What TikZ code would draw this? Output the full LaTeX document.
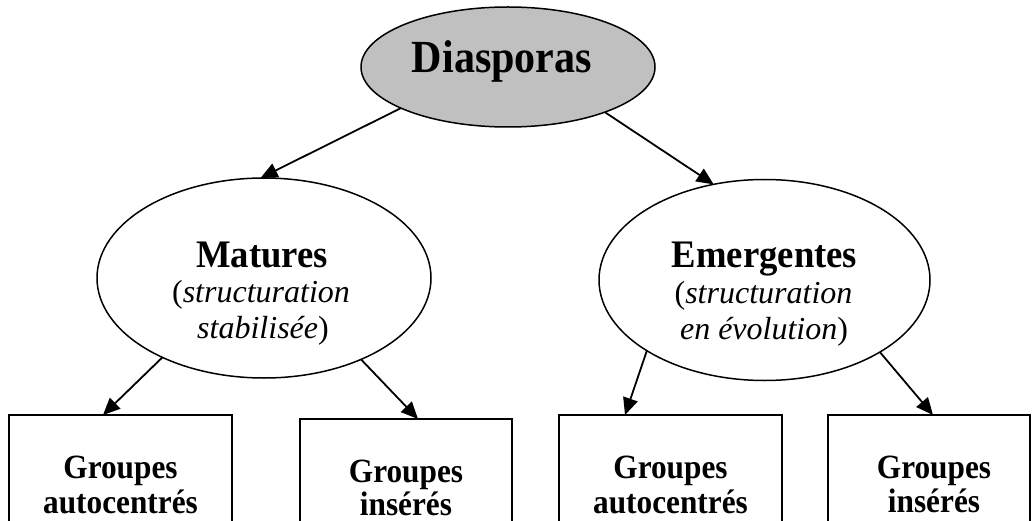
\documentclass[tikz,border=0pt]{standalone}
\usepackage{fontspec}
\setmainfont{Liberation Serif}
\usetikzlibrary{arrows.meta,shapes.geometric,calc}
\definecolor{dgray}{RGB}{192,192,192}
\newcommand\sqz[2]{\scalebox{#1}[1]{#2}}
\begin{document}
\begin{tikzpicture}[x=1pt,y=-1pt,
  ell/.style={ellipse,draw,line width=1.5pt,inner sep=0pt,outer sep=0pt},
  box/.style={rectangle,draw,line width=1.8pt,inner sep=0pt,outer sep=0pt,anchor=north west,minimum height=200pt},
  arr/.style={line width=1.8pt,-{Triangle[length=17pt,width=15pt]}},
  big/.style={anchor=base,inner sep=0pt,font=\fontsize{46}{50}\selectfont\bfseries},
  ttl/.style={anchor=base,inner sep=0pt,font=\fontsize{39}{42}\selectfont\bfseries},
  sub/.style={anchor=base,inner sep=0pt,font=\fontsize{32}{36}\selectfont},
  grp/.style={anchor=base,inner sep=0pt,font=\fontsize{34}{38}\selectfont\bfseries}]
\useasboundingbox (0,0) rectangle (1032,521);
\clip (0,0) rectangle (1032,521);

% ellipses
\node[ell,fill=dgray,minimum width=294pt,minimum height=120pt] (D) at (508,67) {};
\node[ell,minimum width=334pt,minimum height=200pt] (M) at (264,278) {};
\node[ell,minimum width=331pt,minimum height=201pt] (E) at (764.5,280) {};

% ellipse texts
\node[big] (Dt) at (502,73) {\sqz{0.915}{Diasporas}};
\node[ttl] (Mt1) at (262,267) {\sqz{0.94}{Matures}};
\node[sub] (Mt2) at (261,302) {(\textit{structuration}};
\node[sub] (Mt3) at (263,338) {\textit{stabilisée})};
\node[ttl] (Et1) at (764.5,267) {\sqz{0.94}{Emergentes}};
\node[sub] (Et2) at (763.5,303) {(\textit{structuration}};
\node[sub] (Et3) at (764,339) {\textit{en évolution})};

% boxes
\node[box,minimum width=223pt] (B1) at (9,415) {};
\node[box,minimum width=212pt] (B2) at (300,419) {};
\node[box,minimum width=223pt] (B3) at (559,415) {};
\node[box,minimum width=202pt] (B4) at (828,415) {};

% box texts
\node[grp] (B1a) at (120.5,478) {\sqz{0.92}{Groupes}};
\node[grp] (B1b) at (120.5,513) {\sqz{0.92}{autocentrés}};
\node[grp] (B2a) at (406,482) {\sqz{0.92}{Groupes}};
\node[grp] (B2b) at (406,515) {\sqz{0.92}{insérés}};
\node[grp] (B3a) at (670.5,478) {\sqz{0.92}{Groupes}};
\node[grp] (B3b) at (670.5,513) {\sqz{0.92}{autocentrés}};
\node[grp] (B4a) at (934,478) {\sqz{0.92}{Groupes}};
\node[grp] (B4b) at (934,512) {\sqz{0.92}{insérés}};

% connectors
\draw[arr] (D.201) -- (M.92);
\draw[arr] (D.335) -- (E.118);
\draw[arr] (M.218) -- ([xshift=94pt]B1.north west);
\draw[arr] (M.320) -- ([xshift=118pt]B2.north west);
\draw[arr] (E.211.5) -- ([xshift=66pt]B3.north west);
\draw[arr] (E.328.7) -- ([xshift=105pt]B4.north west);
\end{tikzpicture}
\end{document}
